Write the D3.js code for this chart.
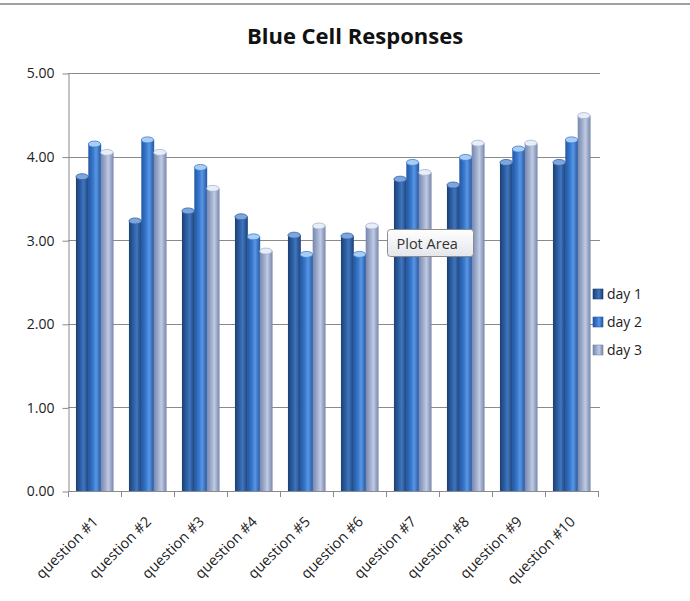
<!DOCTYPE html>
<html>
<head>
<meta charset="utf-8">
<script src="https://cdn.jsdelivr.net/npm/d3@7"></script>
<style>
  body { margin: 0; background: #fff; }
  svg { display: block; font-family: "Open Sans", "Noto Sans", sans-serif; }
</style>
</head>
<body>
<svg id="chart" width="690" height="601"></svg>
<script>
//
// Data
//
var questions = ['question #1', 'question #2', 'question #3', 'question #4', 'question #5',
                 'question #6', 'question #7', 'question #8', 'question #9', 'question #10']
var seriesNames = ['day 1', 'day 2', 'day 3']
var day1 = [3.76, 3.23, 3.35, 3.28, 3.06, 3.05, 3.73, 3.66, 3.93, 3.93]
var day2 = [4.15, 4.20, 3.87, 3.04, 2.83, 2.83, 3.93, 3.99, 4.09, 4.20]
var day3 = [4.05, 4.05, 3.62, 2.87, 3.17, 3.17, 3.81, 4.16, 4.16, 4.49]
var yTicks = [0, 1, 2, 3, 4, 5]

// colors: [edge, mid, highlight, cap]
var seriesColors = [
  ['#1c3f72', '#2f62a8', '#3f76c0', '#7ea6dc'],
  ['#2256a3', '#3a7bd0', '#5a97e4', '#a9cdf5'],
  ['#7786aa', '#a3b1d2', '#c0cbe3', '#e8eef8']
]

//
// Layout
//
var svg = d3.select('#chart')
var plotLeft = 68, plotRight = 598, plotTop = 73, plotBottom = 491

var x0 = d3.scaleBand().domain(questions).range([plotLeft, plotRight]).paddingInner(0.3).paddingOuter(0.15)
var x1 = d3.scaleBand().domain(seriesNames).range([0, x0.bandwidth()])
var y = d3.scaleLinear().domain([0, 5]).range([plotBottom, plotTop])

var rows = questions.map(function(q, i) {
  return { q: q, values: [day1[i], day2[i], day3[i]] }
})

// top border
svg.append('line').attr('x1', 0).attr('x2', 690).attr('y1', 4).attr('y2', 4)
  .attr('stroke', '#a0a0a0').attr('stroke-width', 2)

// gradients
var defs = svg.append('defs')
seriesColors.forEach(function(c, i) {
  var g = defs.append('linearGradient').attr('id', 'grad' + i)
    .attr('x1', '0%').attr('x2', '100%').attr('y1', '0%').attr('y2', '0%')
  g.append('stop').attr('offset', '0%').attr('stop-color', c[0])
  g.append('stop').attr('offset', '40%').attr('stop-color', c[1])
  g.append('stop').attr('offset', '60%').attr('stop-color', c[2])
  g.append('stop').attr('offset', '100%').attr('stop-color', c[0])
})
var tipGrad = defs.append('linearGradient').attr('id', 'tipGrad')
  .attr('x1', '0%').attr('x2', '0%').attr('y1', '0%').attr('y2', '100%')
tipGrad.append('stop').attr('offset', '0%').attr('stop-color', '#ffffff')
tipGrad.append('stop').attr('offset', '100%').attr('stop-color', '#e4e6ea')

// title
svg.append('text').attr('x', 355).attr('y', 44).attr('text-anchor', 'middle')
  .attr('font-size', 22).attr('font-weight', 'bold').attr('fill', '#111')
  .text('Blue Cell Responses')

// gridlines
svg.append('g').selectAll('line').data(yTicks.slice(1)).join('line')
  .attr('x1', plotLeft).attr('x2', plotRight + 2)
  .attr('y1', function(d) { return Math.round(y(d)) + 0.5 })
  .attr('y2', function(d) { return Math.round(y(d)) + 0.5 })
  .attr('stroke', '#8a8a8a')

// y axis
var yAxis = svg.append('g').attr('transform', 'translate(' + (plotLeft + 0.5) + ',0.5)')
  .call(d3.axisLeft(y).tickValues(yTicks).tickFormat(d3.format('.2f')).tickSize(6).tickSizeOuter(0))
yAxis.select('.domain').attr('stroke', '#8a8a8a')
yAxis.selectAll('.tick line').attr('stroke', '#8a8a8a')
yAxis.selectAll('.tick text').attr('font-size', 14).attr('fill', '#222').attr('x', -14)
  .attr('font-family', '"Open Sans", sans-serif')

// bars
var groups = svg.append('g').selectAll('g').data(rows).join('g')
  .attr('transform', function(d) { return 'translate(' + x0(d.q) + ',0)' })

var bw = x1.bandwidth()
groups.selectAll('rect').data(function(d) { return d.values }).join('rect')
  .attr('x', function(d, i) { return x1(seriesNames[i]) })
  .attr('y', function(d) { return y(d) })
  .attr('width', bw + 0.5)
  .attr('height', function(d) { return plotBottom - y(d) })
  .attr('fill', function(d, i) { return 'url(#grad' + i + ')' })

groups.selectAll('ellipse').data(function(d) { return d.values }).join('ellipse')
  .attr('cx', function(d, i) { return x1(seriesNames[i]) + bw / 2 })
  .attr('cy', function(d) { return y(d) })
  .attr('rx', bw / 2)
  .attr('ry', 3)
  .attr('fill', function(d, i) { return seriesColors[i][3] })
  .attr('stroke', function(d, i) { return seriesColors[i][1] })
  .attr('stroke-width', 0.8)

// x axis
var boundaries = d3.range(questions.length + 1).map(function(i) { return plotLeft + i * x0.step() })
svg.append('line').attr('x1', plotLeft).attr('x2', plotRight).attr('y1', plotBottom + 0.5).attr('y2', plotBottom + 0.5)
  .attr('stroke', '#8a8a8a')
svg.append('g').selectAll('line').data(boundaries).join('line')
  .attr('x1', function(d) { return Math.round(d) + 0.5 })
  .attr('x2', function(d) { return Math.round(d) + 0.5 })
  .attr('y1', plotBottom).attr('y2', plotBottom + 6)
  .attr('stroke', '#8a8a8a')

svg.append('g').selectAll('text').data(questions).join('text')
  .attr('transform', function(d) {
    return 'translate(' + (x0(d) + x0.bandwidth() / 2 + 1) + ',' + (plotBottom + 28) + ') rotate(-45)'
  })
  .attr('text-anchor', 'end')
  .attr('dy', '0.35em')
  .attr('font-size', 14.5).attr('fill', '#222')
  .text(function(d) { return d })

// legend
var legend = svg.append('g').selectAll('g').data(seriesNames).join('g')
  .attr('transform', function(d, i) { return 'translate(593,' + (289 + i * 28) + ')' })
legend.append('rect').attr('width', 10).attr('height', 10)
  .attr('fill', function(d, i) { return 'url(#grad' + i + ')' })
  .attr('stroke', function(d, i) { return seriesColors[i][0] }).attr('stroke-width', 0.6)
legend.append('text').attr('x', 14).attr('y', 5).attr('dy', '0.35em')
  .attr('font-size', 14).attr('fill', '#222')
  .text(function(d) { return d })

// "Plot Area" tooltip
var tip = svg.append('g').attr('transform', 'translate(387.5,229.5)')
tip.append('rect').attr('width', 86).attr('height', 27).attr('rx', 3)
  .attr('fill', 'url(#tipGrad)').attr('stroke', '#8c8c8c')
tip.append('text').attr('x', 9).attr('y', 19).attr('font-size', 14.5).attr('fill', '#333')
  .text('Plot Area')
</script>
</body>
</html>
